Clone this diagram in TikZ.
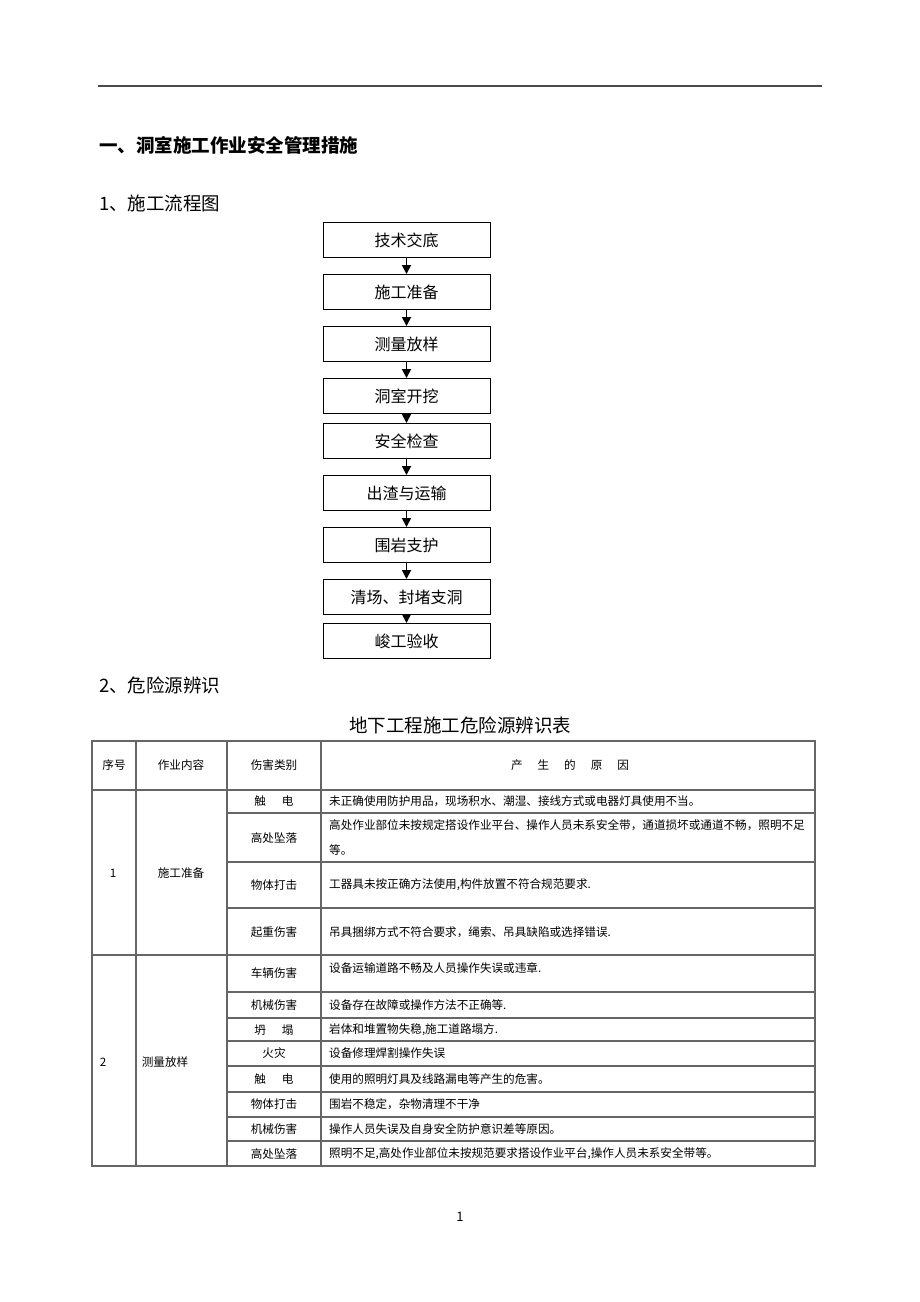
\documentclass[tikz,border=0pt]{standalone}
\usepackage{fontspec}
\setmainfont{Noto Sans CJK SC}
\usepackage{tikz}
\usetikzlibrary{arrows.meta, positioning}

\begin{document}
\begin{tikzpicture}[x=1pt, y=-1pt, node distance=16pt, >={Triangle[length=9pt, width=9pt]},
		stepbox/.style={draw, line width=1pt, minimum width=167pt, minimum height=35pt, inner sep=0pt, font=\fontsize{16}{16}\selectfont},
		heading/.style={inner sep=0pt, font=\fontsize{18.5}{18.5}\selectfont},
		tabline/.style={draw=black!60, line width=1.2pt},
		cell/.style={inner sep=0pt, font=\fontsize{11.6}{25}\selectfont},
		cause/.style={cell, anchor=west, align=left}]
		\useasboundingbox (0,0) rectangle (920,1302);
		\draw[black!70, line width=1.3pt] (98,86)--(822,86);
		
		\node[heading, anchor=west, font=\fontsize{18.5}{18.5}\selectfont\bfseries] (part 1) at (99,145) {一、洞室施工作业安全管理措施};
		\node[heading, anchor=west] (sec 1) at (99,203) {1、施工流程图};
		
		%---------
		\node[stepbox] (step 1) at (406.5,240) {技术交底};
		\node[stepbox, below=of step 1] (step 2) {施工准备};
		\node[stepbox, below=of step 2] (step 3) {测量放样};
		\node[stepbox, below=of step 3] (step 4) {洞室开挖};
		\node[stepbox, below=9pt of step 4] (step 5) {安全检查};
		\node[stepbox, below=of step 5] (step 6) {出渣与运输};
		\node[stepbox, below=of step 6] (step 7) {围岩支护};
		\node[stepbox, below=of step 7] (step 8) {清场、封堵支洞};
		\node[stepbox, below=8pt of step 8] (step 9) {峻工验收};
		
		\draw[->, line width=1.8pt] (step 1)--(step 2);
		\draw[->, line width=1.8pt] (step 2)--(step 3);
		\draw[->, line width=1.8pt] (step 3)--(step 4);
		\draw[->, line width=1.8pt] (step 4)--(step 5);
		\draw[->, line width=1.8pt] (step 5)--(step 6);
		\draw[->, line width=1.8pt] (step 6)--(step 7);
		\draw[->, line width=1.8pt] (step 7)--(step 8);
		\draw[->, line width=1.8pt] (step 8)--(step 9);
		
		%---------
		\node[heading, anchor=west] (sec 2) at (99,685) {2、危险源辨识};
		\node[heading] (table title) at (460,725) {地下工程施工危险源辨识表};
		
		\draw[tabline] (92,741) rectangle (815,1166);
		\foreach \x in {136,227,321} \draw[tabline] (\x,741)--(\x,1166);
		\foreach \y in {790,955} \draw[tabline] (92,\y)--(815,\y);
		\foreach \y in {813,862,908,992,1018,1041,1066,1092,1117,1141} \draw[tabline] (227,\y)--(815,\y);
		
		\node[cell] (head no) at (114,765) {序号};
		\node[cell] (head job) at (181,765) {作业内容};
		\node[cell] (head kind) at (274,765) {伤害类别};
		\node[cell] (head why) at (570,765) {产\hspace{15pt}生\hspace{15pt}的\hspace{15pt}原\hspace{15pt}因};
		
		\node[cell] (no 1) at (113,873) {1};
		\node[cell] (job 1) at (181,873) {施工准备};
		\foreach \y/\kind/\why in {
			801/{触\hspace{16pt}电}/{未正确使用防护用品，现场积水、潮湿、接线方式或电器灯具使用不当。},
			838/{高处坠落}/{高处作业部位未按规定搭设作业平台、操作人员未系安全带，通道损坏或通道不畅，照明不足\\等。},
			885/{物体打击}/{工器具未按正确方法使用,构件放置不符合规范要求.},
			932/{起重伤害}/{吊具捆绑方式不符合要求，绳索、吊具缺陷或选择错误.}}
		{
			\node[cell] (kind \y) at (274,\y) {\kind};
			\node[cause] (why \y) at (329,\y) {\why};
		}
		
		\node[cell] (no 2) at (103,1062) {2};
		\node[cell] (job 2) at (165,1062) {测量放样};
		\foreach \y/\yy/\kind/\why in {
			973/968/{车辆伤害}/{设备运输道路不畅及人员操作失误或违章.},
			1005/1005/{机械伤害}/{设备存在故障或操作方法不正确等.},
			1030/1030/{坍\hspace{16pt}塌}/{岩体和堆置物失稳,施工道路塌方.},
			1053/1053/{火灾}/{设备修理焊割操作失误},
			1079/1079/{触\hspace{16pt}电}/{使用的照明灯具及线路漏电等产生的危害。},
			1104/1104/{物体打击}/{围岩不稳定，杂物清理不干净},
			1129/1129/{机械伤害}/{操作人员失误及自身安全防护意识差等原因。},
			1154/1154/{高处坠落}/{照明不足,高处作业部位未按规范要求搭设作业平台,操作人员未系安全带等。}}
		{
			\node[cell] (kind \y) at (274,\y) {\kind};
			\node[cause] (why \y) at (329,\yy) {\why};
		}
		
		\node[cell, font=\fontsize{13}{13}\selectfont] (page) at (460,1217) {1};
	\end{tikzpicture}
\end{document}
